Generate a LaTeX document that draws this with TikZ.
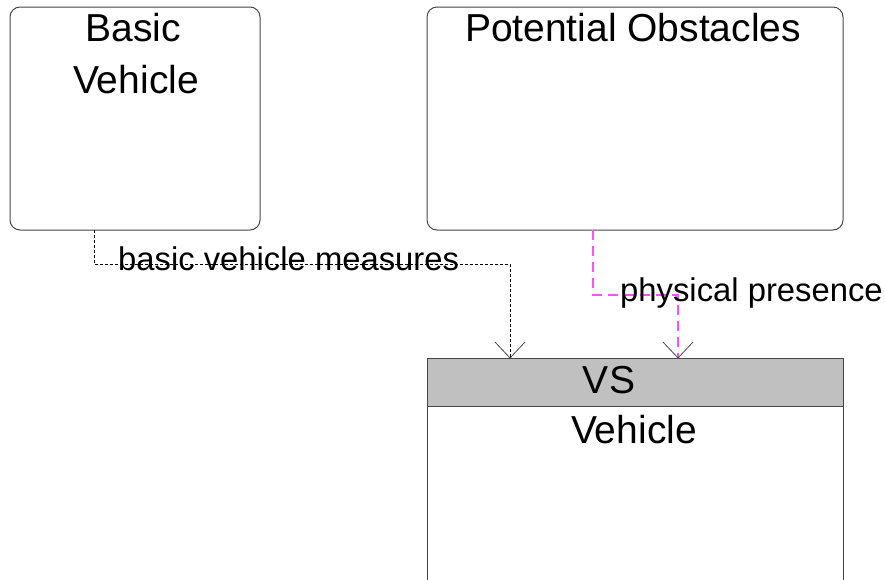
\documentclass[tikz,border=0pt]{standalone}
\usepackage{fontspec}
\setmainfont{Liberation Sans}
\definecolor{pinkline}{RGB}{255,80,255}
\definecolor{hdrgray}{RGB}{192,192,192}
\definecolor{edgegray}{RGB}{70,70,70}
\tikzset{
  ubox/.style={draw=edgegray, line width=1pt, rounded corners=10pt, inner sep=0pt},
  title/.style={font=\fontsize{39}{46}\selectfont, anchor=base, inner sep=0pt},
  lbl/.style={font=\fontsize{32.8}{38}\selectfont, anchor=base west, inner sep=0pt},
  opentip/.style={draw=edgegray, line width=0.8pt},
  conn/.style={draw=black, line width=0.8pt, dash pattern=on 3pt off 2pt},
  pconn/.style={draw=pinkline, line width=1.2pt, dash pattern=on 10pt off 6pt},
}
\begin{document}
\begin{tikzpicture}[x=1pt,y=-1pt]
\useasboundingbox (0,0) rectangle (885,579);
\clip (0,0) rectangle (885,579);
% boxes
\node[ubox, minimum width=250pt, minimum height=223pt] (bv) at (135,118.5) {};
\node[ubox, minimum width=416pt, minimum height=223pt] (po) at (635,118.5) {};
\node[draw=edgegray, line width=1pt, fill=white, minimum width=416pt, minimum height=200pt, inner sep=0pt, anchor=north] (vsb) at (635,406) {};
\node[draw=edgegray, line width=1pt, fill=hdrgray, minimum width=416pt, minimum height=48pt, inner sep=0pt, anchor=north] (vsh) at (635,358) {};
% titles
\node[title] (t1) at (133,41) {Basic};
\node[title] (t2) at (136,93) {Vehicle};
\node[title] (t3) at (633,41) {Potential Obstacles};
\node[title] (t4) at (609,393) {VS};
\node[title] (t5) at (634,443) {Vehicle};
% connectors
\coordinate (a1) at (94,230);
\coordinate (a2) at (510,358);
\draw[conn] (a1) -- (94,264) -- (510,264) -- (a2);
\draw[opentip] (a2) ++(-15,-16) -- (a2) -- ++(15,-16);
\coordinate (b1) at (593,230);
\coordinate (b2) at (678,358);
\draw[pconn] (b1) -- (593,295) -- (678,295) -- (b2);
\draw[opentip] (b2) ++(-15,-16) -- (b2) -- ++(15,-16);
% labels
\node[lbl] (l1) at (118,270) {basic vehicle measures};
\node[lbl] (l2) at (620,301) {physical presence};
\end{tikzpicture}
\end{document}
